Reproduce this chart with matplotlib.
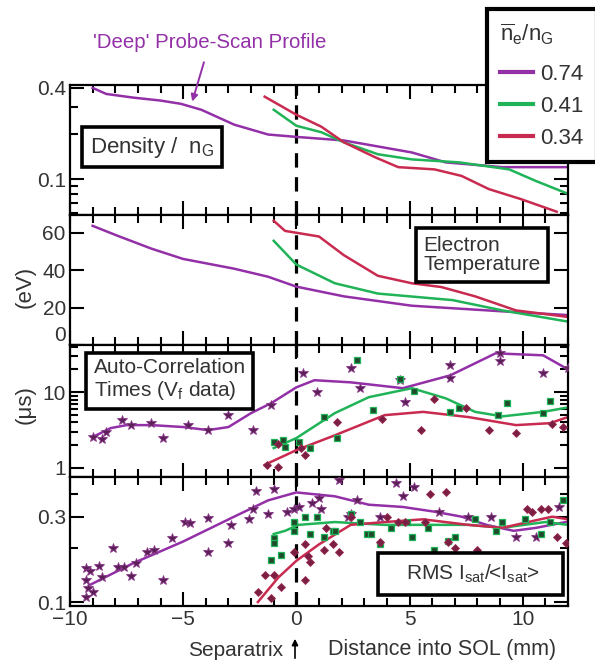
import matplotlib.pyplot as plt
from matplotlib.ticker import FixedLocator, MultipleLocator, NullFormatter, FixedFormatter
from matplotlib.lines import Line2D
from matplotlib.patches import Rectangle, FancyArrowPatch

plt.rcParams['font.family'] = ['Liberation Sans', 'DejaVu Sans']
plt.rcParams['mathtext.fontset'] = 'custom'
plt.rcParams['mathtext.rm'] = 'Liberation Sans'
plt.rcParams['mathtext.it'] = 'Liberation Sans'
plt.rcParams['mathtext.bf'] = 'Liberation Sans:bold'

PURPLE = '#9330a7'
GREEN = '#20b358'
RED = '#c92a50'
TXT = '#333333'

densities = ['0.74', '0.41', '0.34']

# density / n_G
dens_x_74 = [-9.0, -8.4, -7.2, -6.0, -5.1, -4.2, -2.75, -1.25, 0.0, 2.1, 5.1, 6.6, 9.1, 12.0]
dens_74 = [0.40, 0.365, 0.345, 0.33, 0.314, 0.287, 0.229, 0.197, 0.19, 0.18, 0.15, 0.129, 0.12, 0.12]
dens_x_41 = [-1.0, 0.0, 1.1, 2.1, 3.6, 5.1, 7.2, 9.4, 10.6, 12.0]
dens_41 = [0.287, 0.225, 0.204, 0.175, 0.146, 0.135, 0.129, 0.116, 0.097, 0.08]
dens_x_34 = [-1.4, 0.0, 1.1, 2.1, 3.5, 4.5, 6.1, 7.3, 8.5, 9.9, 11.5]
dens_34 = [0.35, 0.266, 0.222, 0.175, 0.139, 0.12, 0.116, 0.105, 0.086, 0.074, 0.061]

# electron temperature (eV)
te_x_74 = [-9.0, -7.9, -6.4, -5.0, -2.75, -1.25, 0.0, 2.1, 5.1, 9.1, 12.0]
te_74 = [63.7, 58.4, 51.5, 46.0, 40.8, 36.5, 31.2, 26.0, 21.0, 18.0, 16.0]
te_x_41 = [-1.0, 0.0, 1.7, 3.6, 6.9, 9.1, 12.0]
te_41 = [55.7, 43.0, 33.0, 27.5, 24.0, 18.5, 12.5]
te_x_34 = [-1.0, -0.5, 0.0, 1.0, 2.1, 3.6, 5.1, 6.4, 7.9, 9.7, 12.0]
te_34 = [66.4, 61.0, 60.0, 58.0, 48.0, 37.0, 33.0, 31.0, 26.0, 18.5, 15.0]

# auto-correlation times (us), fitted curves
ac_x_74 = [-9.0, -8.2, -7.5, -6.4, -5.0, -3.9, -3.0, -2.0, -1.1, 0.0, 0.8, 2.4, 4.7, 6.8, 8.8, 10.9, 12.0]
ac_74 = [2.56, 3.36, 3.68, 3.68, 3.47, 3.16, 3.47, 5.3, 7.2, 11.6, 14.4, 13.5, 11.3, 16.7, 32.6, 30.7, 20.0]
ac_x_41 = [-1.0, 0.0, 1.7, 3.2, 5.1, 6.6, 7.9, 9.1, 10.9, 12.0]
ac_41 = [1.83, 2.48, 5.3, 8.6, 11.3, 8.3, 5.5, 4.8, 5.5, 6.3]
ac_x_34 = [-1.4, 0.0, 1.7, 3.9, 5.6, 7.6, 9.7, 11.2, 12.0]
ac_34 = [1.1, 1.72, 2.7, 4.98, 5.5, 4.7, 3.68, 3.9, 4.7]

# auto-correlation times, measured points
ac_pts_x_74 = [-9.0, -8.6, -8.4, -7.7, -7.3, -6.4, -5.9, -4.8, -3.9, -3.0, -1.9, -1.1,
               0.3, 0.9, 2.4, 2.8, 4.6, 4.8, 6.8, 6.8, 9.0, 9.0, 10.9, 12.0]
ac_pts_74 = [2.56, 2.4, 2.98, 4.3, 3.68, 3.9, 2.48, 3.68, 3.16, 4.98, 3.16, 6.7,
             17.8, 10.0, 20.7, 11.3, 14.4, 7.4, 23.0, 15.3, 32.6, 25.6, 17.8, 20.7]
ac_pts_x_41 = [-1.0, -0.6, -0.5, 0.1, 0.6, 1.2, 1.8, 2.7, 3.4, 4.6, 5.2, 6.8, 7.2, 8.9, 9.3, 10.9, 11.2]
ac_pts_41 = [2.2, 2.33, 1.9, 2.2, 1.83, 4.7, 2.48, 26.3, 5.9, 14.8, 10.3, 5.5, 6.2, 5.0, 7.2, 5.3, 7.6]
ac_pts_x_34 = [-1.3, -0.8, -0.8, 0.2, 0.4, 1.8, 3.8, 5.5, 6.1, 7.5, 8.5, 9.7, 11.3, 11.8]
ac_pts_34 = [1.1, 1.03, 2.1, 1.83, 1.49, 4.0, 4.4, 3.16, 8.1, 6.2, 3.16, 2.9, 3.8, 3.47]

# RMS Isat / <Isat>, fitted curves
rms_x_74 = [-9.1, -7.2, -5.0, -2.75, -1.25, 0.0, 1.7, 3.2, 4.7, 6.1, 7.3, 8.4, 9.6, 10.6, 11.9]
rms_74 = [0.125, 0.165, 0.218, 0.30, 0.37, 0.41, 0.39, 0.35, 0.34, 0.32, 0.30, 0.27, 0.25, 0.26, 0.28]
rms_x_41 = [-1.0, -0.5, 0.1, 1.7, 3.9, 5.6, 7.6, 9.1, 11.0, 12.0]
rms_41 = [0.24, 0.25, 0.27, 0.28, 0.27, 0.27, 0.27, 0.26, 0.28, 0.27]
rms_x_34 = [-1.7, -0.8, 0.0, 1.0, 2.4, 3.9, 5.6, 7.6, 9.1, 11.3, 12.0]
rms_34 = [0.10, 0.137, 0.17, 0.21, 0.27, 0.28, 0.29, 0.27, 0.26, 0.30, 0.29]

# RMS Isat / <Isat>, measured points
rms_pts_x_74 = [-9.3, -9.1, -8.7, -9.3, -9.2, -9.3, -9.0, -8.6, -8.1, -7.9, -7.6, -7.3, -7.1,
                -6.6, -6.3, -5.9, -5.5, -4.9, -4.7, -3.9, -3.9, -3.0, -2.9, -2.1, -1.9,
                -1.8, -1.25, -1.0, -0.4, -0.1, 0.1, 0.7, 1.0, 1.1, 1.9, 2.3, 2.4, 2.7,
                3.7, 4.4, 4.7, 5.2, 6.3, 7.6, 8.6, 9.7, 10.6, 11.6]
rms_pts_74 = [0.155, 0.15, 0.16, 0.133, 0.12, 0.107, 0.114, 0.138, 0.201, 0.157, 0.157, 0.14, 0.165,
              0.19, 0.195, 0.133, 0.228, 0.28, 0.277, 0.19, 0.296, 0.214, 0.27, 0.29, 0.33,
              0.42, 0.31, 0.43, 0.32, 0.33, 0.34, 0.36, 0.38, 0.33, 0.48, 0.30, 0.31, 0.37,
              0.30, 0.46, 0.39, 0.44, 0.32, 0.30, 0.30, 0.23, 0.23, 0.34]
rms_pts_x_41 = [-1.0, -1.0, -0.7, -1.1, -0.1, -0.1, 0.4, 0.9, 0.6, 1.2, 1.6, 1.7, 2.4, 2.8,
                3.1, 3.3, 3.7, 4.2, 4.9, 5.1, 5.8, 6.1, 6.7, 7.0, 7.9, 8.8, 9.1, 10.1,
                10.8, 11.2, 11.8]
rms_pts_41 = [0.228, 0.214, 0.184, 0.172, 0.25, 0.28, 0.30, 0.30, 0.24, 0.23, 0.25, 0.25, 0.31, 0.28,
              0.24, 0.24, 0.21, 0.26, 0.28, 0.23, 0.26, 0.196, 0.22, 0.23, 0.29, 0.25, 0.28, 0.29,
              0.24, 0.28, 0.37]
rms_pts_x_34 = [-1.4, -1.0, -1.7, -1.1, -0.7, -0.1, 0.4, 0.5, 0.6, 0.4, 1.2, 1.6, 1.3, 1.9,
                2.4, 3.7, 4.0, 4.5, 4.8, 5.7, 5.9, 6.6, 6.7, 7.0, 8.0, 10.2, 10.4, 10.8,
                11.1, 11.5, 11.9]
rms_pts_34 = [0.141, 0.141, 0.114, 0.105, 0.121, 0.19, 0.21, 0.18, 0.168, 0.133, 0.196, 0.21, 0.26, 0.19,
              0.30, 0.217, 0.30, 0.28, 0.28, 0.28, 0.40, 0.41, 0.217, 0.20, 0.196, 0.33, 0.32, 0.33,
              0.33, 0.23, 0.215]

fig = plt.figure(figsize=(5.95, 6.66), dpi=100)

left, width = 70 / 595, 498 / 595
edges = [85, 215, 345, 477, 606]
axes = []
for i in range(4):
    top, bot = edges[i], edges[i + 1]
    ax = fig.add_axes([left, 1 - bot / 666, width, (bot - top) / 666])
    axes.append(ax)
ax1, ax2, ax3, ax4 = axes

for ax in axes:
    ax.set_xlim(-10, 12)
    ax.xaxis.set_major_locator(MultipleLocator(5))
    ax.xaxis.set_minor_locator(MultipleLocator(1))
    ax.tick_params(which='both', direction='in', top=True, right=True,
                   labelsize=15, colors='black', labelcolor=TXT, width=1.5)
    ax.tick_params(which='major', length=10, pad=3)
    ax.tick_params(which='minor', length=6)
    for s in ax.spines.values():
        s.set_linewidth(1.6)
    ax.axvline(0, color='black', lw=2.3, ls=(0, (4.5, 3)), zorder=1)
    if ax is not ax4:
        ax.tick_params(labelbottom=False)

lw = 1.8
star = dict(marker='*', mfc='#5c1f57', mec='#8a3a8a', ms=7, ls='none', mew=0.6, zorder=3)
square = dict(marker='s', mfc='#1f4a2c', mec=GREEN, ms=4.2, ls='none', mew=0.9, zorder=3)
diamond = dict(marker='D', mfc='#7a1f43', mec='#9a2a50', ms=4.2, ls='none', mew=0.6, zorder=3)

# density panel
ax1.set_yscale('log')
ax1.set_ylim(0.058, 0.418)
ax1.plot(dens_x_74, dens_74, color=PURPLE, lw=lw)
ax1.plot(dens_x_41, dens_41, color=GREEN, lw=lw)
ax1.plot(dens_x_34, dens_34, color=RED, lw=lw)
ax1.yaxis.set_major_locator(FixedLocator([0.1, 0.4]))
ax1.yaxis.set_major_formatter(FixedFormatter(['0.1', '0.4']))
ax1.yaxis.set_minor_locator(FixedLocator([0.06, 0.07, 0.08, 0.09, 0.2, 0.3]))
ax1.yaxis.set_minor_formatter(NullFormatter())

# temperature panel
ax2.set_ylim(0, 69.5)
ax2.plot(te_x_74, te_74, color=PURPLE, lw=lw)
ax2.plot(te_x_41, te_41, color=GREEN, lw=lw)
ax2.plot(te_x_34, te_34, color=RED, lw=lw)
ax2.yaxis.set_major_locator(FixedLocator([0, 20, 40, 60]))
ax2.yaxis.set_minor_locator(FixedLocator([]))

# auto-correlation panel
ax3.set_yscale('log')
ax3.set_ylim(0.76, 42)
ax3.plot(ac_x_74, ac_74, color=PURPLE, lw=lw)
ax3.plot(ac_x_41, ac_41, color=GREEN, lw=lw)
ax3.plot(ac_x_34, ac_34, color=RED, lw=lw)
ax3.plot(ac_pts_x_74, ac_pts_74, **star)
ax3.plot(ac_pts_x_41, ac_pts_41, **square)
ax3.plot(ac_pts_x_34, ac_pts_34, **diamond)
ax3.yaxis.set_major_locator(FixedLocator([1, 10]))
ax3.yaxis.set_major_formatter(FixedFormatter(['1', '10']))
ax3.yaxis.set_minor_locator(FixedLocator([2, 3, 4, 5, 6, 7, 8, 9, 20, 30, 40]))
ax3.yaxis.set_minor_formatter(NullFormatter())

# RMS fluctuation panel
ax4.set_yscale('log')
ax4.set_ylim(0.095, 0.5)
ax4.plot(rms_x_74, rms_74, color=PURPLE, lw=lw)
ax4.plot(rms_x_41, rms_41, color=GREEN, lw=lw)
ax4.plot(rms_x_34, rms_34, color=RED, lw=lw)
ax4.plot(rms_pts_x_74, rms_pts_74, **star)
ax4.plot(rms_pts_x_41, rms_pts_41, **square)
ax4.plot(rms_pts_x_34, rms_pts_34, **diamond)
ax4.yaxis.set_major_locator(FixedLocator([0.1, 0.3]))
ax4.yaxis.set_major_formatter(FixedFormatter(['0.1', '0.3']))
ax4.yaxis.set_minor_locator(FixedLocator([0.2, 0.4]))
ax4.yaxis.set_minor_formatter(NullFormatter())
ax4.set_xticks([-10, -5, 0, 5, 10])
ax4.set_xticklabels(['\u221210', '\u22125', '0', '5', '10'])

# the zero label sits a little above the bottom edge
fig.canvas.draw()
ax2.get_yticklabels()[0].set_verticalalignment('bottom')

box = dict(boxstyle='square,pad=0.35', fc='white', ec='black', lw=2.6)
ax1.text(0.165, 0.523, 'Density /  n$_G$', transform=ax1.transAxes, ha='center', va='center',
         fontsize=16, color=TXT, bbox=box, zorder=5)
ax2.text(0.827, 0.692, 'Electron\nTemperature', transform=ax2.transAxes, ha='center', va='center',
         multialignment='left', fontsize=15, color=TXT, bbox=box, zorder=5, linespacing=1.05)
ax3.text(0.2, 0.735, 'Auto-Correlation\nTimes (V$_f$ data)', transform=ax3.transAxes, ha='center',
         va='center', multialignment='left', fontsize=15, color=TXT, bbox=box, zorder=5, linespacing=1.1)
ax4.add_patch(Rectangle((0.618, 0.085), 0.372, 0.326, transform=ax4.transAxes,
                        fc='white', ec='black', lw=2.6, zorder=5))
ax4.text(0.81, 0.248, 'RMS I$_{sat}$/<I$_{sat}$>', transform=ax4.transAxes, ha='center', va='center',
         fontsize=15, color=TXT, zorder=6)

fig.text(25 / 595, 1 - 287 / 666, '(eV)', rotation=90, ha='center', va='center', fontsize=16, color=TXT)
fig.text(25 / 595, 1 - 405 / 666, '(\u03bcs)', rotation=90, ha='center', va='center', fontsize=16, color=TXT)

fig.text(283 / 595, 1 - 650 / 666, 'Separatrix', ha='right', va='center', fontsize=15, color=TXT)
fig.text(328 / 595, 1 - 650 / 666, 'Distance into SOL (mm)', ha='left', va='center', fontsize=15.5, color=TXT)
fig.patches.append(FancyArrowPatch(
    (295 / 595, 1 - 661 / 666), (295 / 595, 1 - 636 / 666), transform=fig.transFigure,
    arrowstyle='-|>', mutation_scale=9, color='black', lw=1.2))

ax1.annotate("'Deep' Probe-Scan Profile", xy=(-4.6, 0.325), xycoords='data',
             xytext=(210 / 595, 1 - 42 / 666), textcoords='figure fraction',
             ha='center', va='center', fontsize=14.7, color=PURPLE,
             arrowprops=dict(arrowstyle='-|>', color=PURPLE, lw=1.4, mutation_scale=10,
                             shrinkA=6, shrinkB=0))

handles = [Line2D([], [], color=c, lw=3) for c in (PURPLE, GREEN, RED)]
leg = fig.legend(handles, densities, loc='upper right', bbox_to_anchor=(1.003, 0.987),
                 title=r'$\overline{n}_e/n_G$', fontsize=16, title_fontsize=16,
                 frameon=True, fancybox=False, edgecolor='black', framealpha=1,
                 handlelength=1.5, handletextpad=0.3, borderpad=0.6, labelspacing=0.5,
                 borderaxespad=0)
leg.get_frame().set_linewidth(3)
leg._legend_box.align = 'left'
leg._legend_box.sep = 12
for t in leg.get_texts():
    t.set_color(TXT)
leg.get_title().set_color(TXT)

fig.savefig('out.png', dpi=100)
